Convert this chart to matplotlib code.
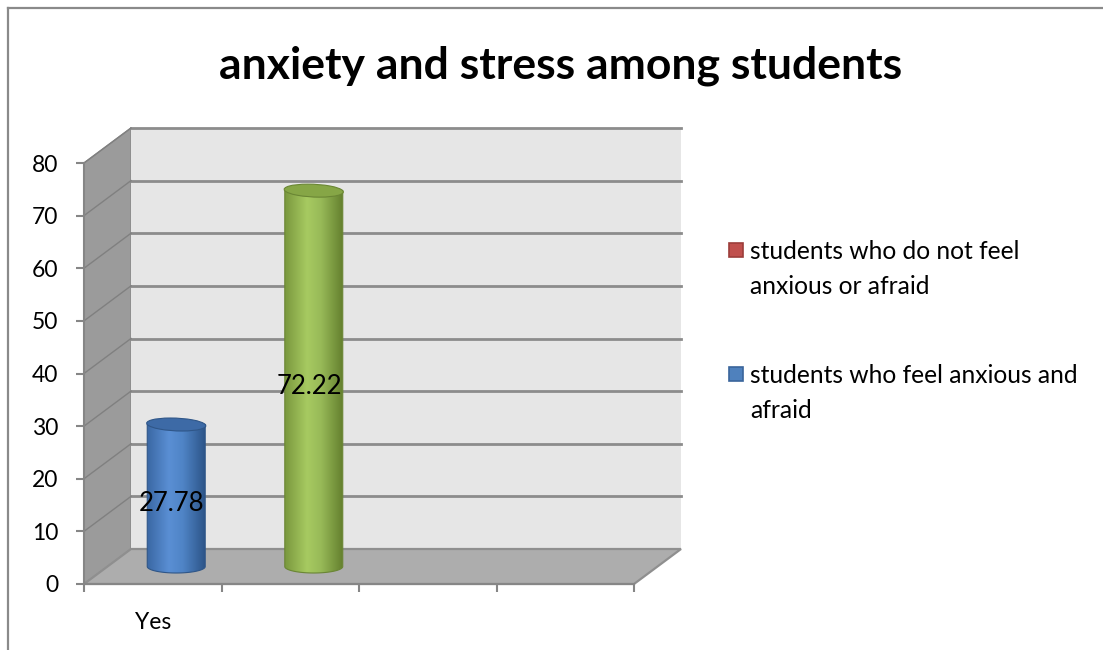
import matplotlib
matplotlib.use("Agg")
import matplotlib.pyplot as plt
import numpy as np
from matplotlib.patches import Polygon, Rectangle, Ellipse, PathPatch
from matplotlib.path import Path
from matplotlib.lines import Line2D
from matplotlib.colors import LinearSegmentedColormap

# ---------------- data ----------------
title = "anxiety and stress among students"
categories = ["Yes", "", "", ""]
bar_positions = [0, 1]
bar_values = [27.78, 72.22]
bar_labels = ["27.78", "72.22"]
legend_labels = ["students who do not feel\nanxious or afraid",
                 "students who feel anxious and\nafraid"]
legend_colors = ["#c0504d", "#4f81bd"]
legend_edges = ["#9c3d3a", "#3a659b"]
yticks = [0, 10, 20, 30, 40, 50, 60, 70, 80]

# cylinder styles: (gradient stops, top colour, edge colour)
bar_styles = [
    (["#3a67a3", "#5a8fd4", "#4f84c6", "#2d5589"], "#3d6aa6", "#2f5688"),
    (["#7a983e", "#a7ca61", "#98ba58", "#64802e"], "#86a646", "#6a8634"),
]

FONT = "Lato"
W, H = 1103, 650
fig = plt.figure(figsize=(W / 100, H / 100), dpi=100)
fig.patch.set_facecolor("white")

# outer frame (left and top only visible)
fig.add_artist(Line2D([8 / W, 8 / W], [0, 1 - 8 / H], transform=fig.transFigure,
                      color="#8a8a8a", lw=1.6))
fig.add_artist(Line2D([8 / W, 1], [1 - 8 / H, 1 - 8 / H], transform=fig.transFigure,
                      color="#8a8a8a", lw=1.6))

ax = fig.add_axes([84 / W, (H - 584) / H, 550 / W, 421 / H])
ax.set_facecolor("none")
xmin, xmax = -0.5, len(categories) - 0.5
ymin, ymax = yticks[0], yticks[-1]

# depth offset expressed in data units
px_per_x = 550 / (xmax - xmin)
px_per_y = 421 / (ymax - ymin)
dx = 47 / px_per_x
dy = 35 / px_per_y

# side wall
ax.add_patch(Polygon([(xmin, ymin), (xmin, ymax), (xmin + dx, ymax + dy), (xmin + dx, ymin + dy)],
                     closed=True, fc="#9b9b9b", ec="#8a8a8a", lw=1.0, clip_on=False, zorder=1))
# back wall
ax.add_patch(Rectangle((xmin + dx, ymin + dy), xmax - xmin, ymax - ymin,
                       fc="#e6e6e6", ec="none", clip_on=False, zorder=1))
# floor
ax.add_patch(Polygon([(xmin, ymin), (xmax, ymin), (xmax + dx, ymin + dy), (xmin + dx, ymin + dy)],
                     closed=True, fc="#adadad", ec="#8f8f8f", lw=1.6, clip_on=False, zorder=1))

# grid lines on back and side walls
for yv in yticks[1:]:
    ax.add_line(Line2D([xmin + dx, xmax + dx], [yv + dy, yv + dy], color="#8c8c8c", lw=2.0,
                       clip_on=False, zorder=2))
    ax.add_line(Line2D([xmin, xmin + dx], [yv, yv + dy], color="#808080", lw=1.0,
                       clip_on=False, zorder=2))

# cylinders
bar_w = 58 / px_per_x
ell_h = 13 / px_per_y
grad = np.linspace(0, 1, 256).reshape(1, -1)
for pos, val, lab, (stops, topc, edgec) in zip(bar_positions, bar_values, bar_labels, bar_styles):
    xc = pos + dx / 2
    y0 = ymin + dy / 2
    y1 = val + dy / 2 - 0.8
    theta = np.linspace(np.pi, 2 * np.pi, 80)
    verts = [(xc - bar_w / 2, y1), (xc - bar_w / 2, y0)]
    verts += list(zip(xc + bar_w / 2 * np.cos(theta), y0 + ell_h / 2 * np.sin(theta)))
    verts += [(xc + bar_w / 2, y1), (xc - bar_w / 2, y1)]
    body = PathPatch(Path(verts, closed=True), fc="none", ec=edgec, lw=0.8,
                     transform=ax.transData, clip_on=False, zorder=4)
    ax.add_patch(body)
    cmap = LinearSegmentedColormap.from_list("c", list(zip([0, 0.38, 0.62, 1.0], stops)))
    im = ax.imshow(grad, cmap=cmap, aspect="auto",
                   extent=[xc - bar_w / 2, xc + bar_w / 2, y0 - ell_h / 2, y1],
                   zorder=3, interpolation="bilinear")
    im.set_clip_path(body)
    ax.add_patch(Ellipse((xc, y1), bar_w, ell_h, angle=2, fc=topc, ec=edgec, lw=0.8,
                         clip_on=False, zorder=5))
    ax.text(xc - 0.1 * dx, val / 2 + 0.2 * dy, lab, ha="center", va="center",
            fontsize=18.5, family=FONT, color="black", zorder=6)

ax.set_xlim(xmin, xmax)
ax.set_ylim(ymin, ymax)

# axes
for s in ["top", "right"]:
    ax.spines[s].set_visible(False)
for s in ["left", "bottom"]:
    ax.spines[s].set_color("#868686")
    ax.spines[s].set_linewidth(1.5)
    ax.spines[s].set_zorder(6)
ax.set_yticks(yticks)
ax.set_yticklabels([str(v) for v in yticks], family=FONT, fontsize=16.5)
ax.tick_params(axis="y", length=5.5, width=1.5, color="#868686", pad=13)
ax.set_xticks(range(len(categories)))
ax.set_xticklabels(categories, family=FONT, fontsize=16.5)
ax.set_xticks(np.arange(xmin, xmax + 0.01, 1), minor=True)
ax.tick_params(axis="x", which="major", length=0, pad=20)
ax.tick_params(axis="x", which="minor", length=6, width=1.5, color="#868686")

# title
fig.text(561 / W, 1 - 66 / H, title, ha="center", va="center", fontsize=32,
         fontweight="bold", family=FONT, color="black")

# legend (drawn manually)
leg_tops = [243, 367]
for top, lab, fc, ec in zip(leg_tops, legend_labels, legend_colors, legend_edges):
    fig.add_artist(Rectangle((729 / W, 1 - (top + 14) / H), 14 / W, 14 / H,
                             transform=fig.transFigure, fc=fc, ec=ec, lw=1.2))
    fig.text(750 / W, 1 - (top - 3) / H, lab, ha="left", va="top", fontsize=17.7,
             family=FONT, color="black", linespacing=1.62)

fig.savefig("out.png", dpi=100)
